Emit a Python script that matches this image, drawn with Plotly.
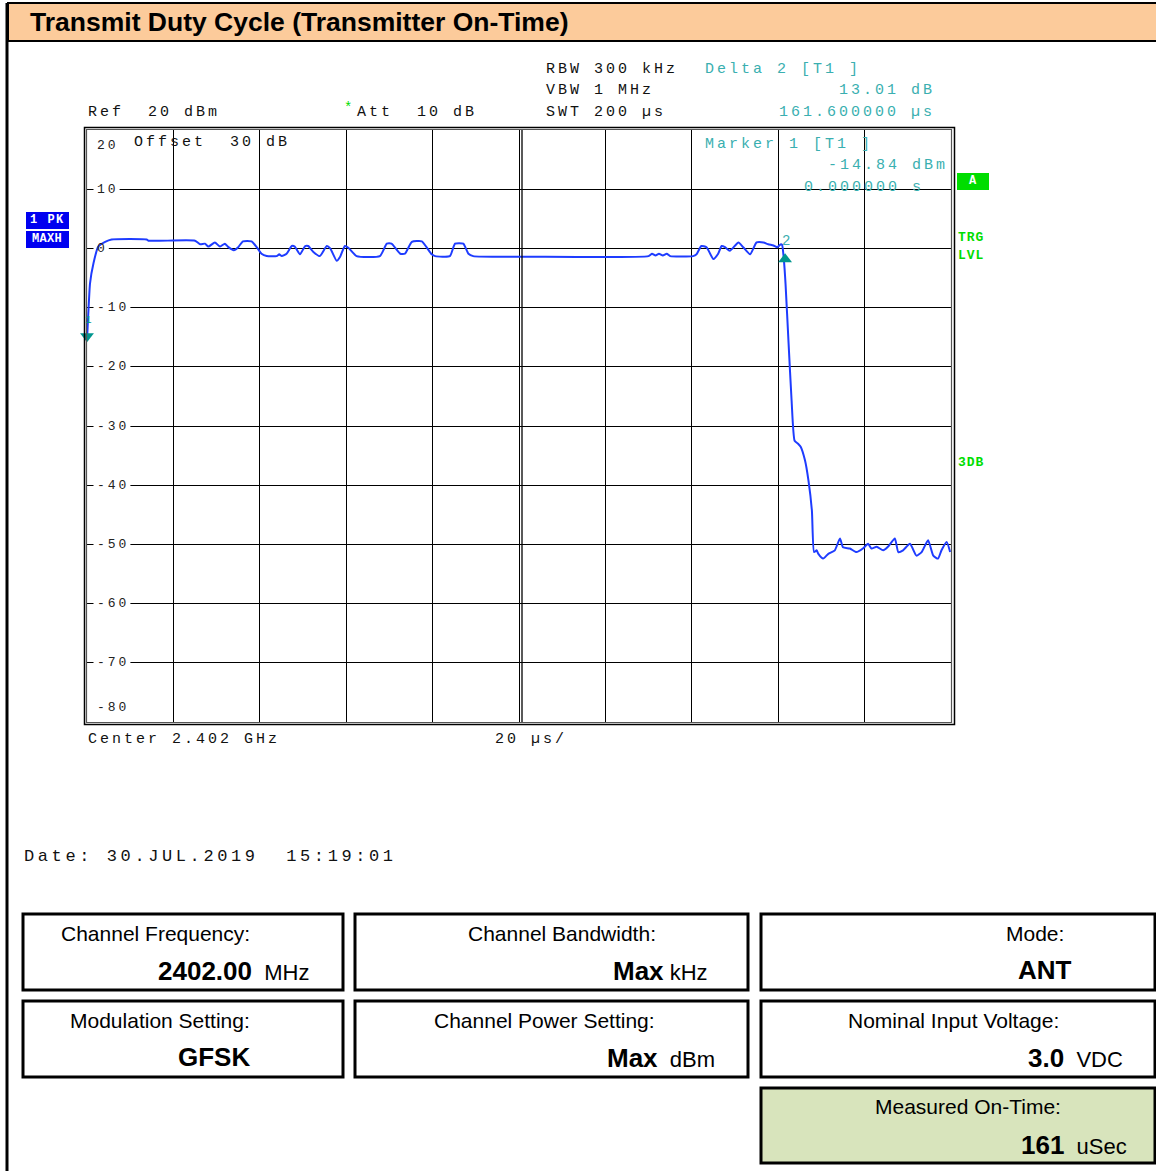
import plotly.graph_objects as go

W, H = 1156, 1171

# ---------------- data ----------------
t_us = [0.0, 0.3, 0.7, 1.5, 2.6, 4.2, 5.7, 13.8, 14.2, 25.0, 26.2, 27.3, 28.1, 29.6, 30.8, 31.9,
        32.6, 34.0, 35.0, 36.1, 38.1, 39.3, 40.4, 41.6, 43.9, 44.5, 45.1, 46.2, 47.4, 48.1,
        49.3, 50.5, 51.2, 52.4, 53.9, 55.5, 56.3, 57.8, 58.6, 59.7, 60.5, 62.4, 67.8, 69.4,
        70.5, 72.5, 73.6, 75.2, 77.5, 78.6, 79.8, 80.6, 84.0, 85.2, 87.1, 88.3, 89.4, 102.5,
        130.0, 130.8, 131.6, 132.4, 133.3, 134.2, 135.0, 140.3, 141.1, 142.2, 143.4, 145.0,
        146.1, 146.9, 147.7, 148.8, 150.8, 151.9, 153.5, 155.0, 156.6, 157.7, 158.9, 159.8,
        160.6, 160.9, 161.3, 161.7, 162.4, 163.1, 163.8, 164.6, 165.2, 166.2, 167.0, 167.8,
        168.3, 168.9, 169.3, 170.4, 171.6, 173.1, 174.3, 175.0, 176.6, 178.1, 179.6, 180.8,
        181.6, 182.8, 184.3, 185.4, 187.0, 187.8, 188.9, 190.5, 192.0, 193.2, 194.7, 195.9,
        197.0, 197.8, 199.0, 199.8]
level_dbm = [-15.5, -11.0, -5.9, -2.5, 0.3, 1.1, 1.5, 1.5, 1.3, 1.3, 0.7, 0.8, 0.3, 1.0, 0.3, 0.8,
             0.3, -0.3, 0.2, 1.2, 1.2, 0.2, -0.9, -1.3, -1.3, -1.0, -1.3, -0.9, 0.4, 0.3,
             -1.0, 0.4, 0.4, -0.6, -1.3, 0.4, 0.0, -2.1, -1.4, 0.4, 0.1, -1.3, -1.3, 0.8,
             0.8, -0.9, -0.9, 1.1, 1.2, 0.2, -1.0, -1.3, -1.3, 0.8, 0.8, -0.9, -1.3, -1.4,
             -1.3, -0.9, -1.2, -0.9, -1.2, -0.9, -1.3, -1.3, -1.0, 0.4, 0.2, -1.8,
             -0.9, 0.4, 0.2, -0.4, 1.0, 0.2, -1.0, 1.0, 1.0, 0.7, 0.5, 0.2,
             0.7, 0.6, -1.8, -6.0, -16.0, -25.7, -32.5, -33.0, -33.5, -35.8, -39.2, -44.3,
             -51.3, -51.0, -51.6, -52.4, -51.6, -51.0, -49.0, -50.5, -50.7, -51.3, -50.7, -49.9,
             -50.7, -50.4, -51.0, -50.4, -49.0, -51.3, -51.0, -49.9, -51.9, -51.3, -49.3, -51.9,
             -52.4, -51.0, -49.6, -51.3]

marker_t = [0.0, 161.6]
marker_dbm = [-14.84, -1.83]

y_tick_vals = [20, 10, 0, -10, -20, -30, -40, -50, -60, -70, -80]

# ---------------- helpers ----------------
def X(px):
    return px / W

def Y(py):
    return 1 - py / H

px_l, px_r, py_t, py_b = 87, 951, 130, 722
T_RANGE = (0, 200)

def XD(px):
    # pixel -> time axis units (for decorations drawn in the plot layer)
    return T_RANGE[0] + (px - px_l) * (T_RANGE[1] - T_RANGE[0]) / (px_r - px_l)

NB = "\u00a0"
MONO = "Liberation Mono"
SANS = "Liberation Sans"
TEAL = "#3AAFB0"
GREEN = "#00DD00"
BLUE = "#1E3CFF"
INK = "#111111"

def sp(s, ls=3.0):
    s = s.replace(" ", NB)
    return f'<span style="letter-spacing:{ls}px">{s}</span>'

fig = go.Figure()

fig.add_trace(go.Scatter(x=t_us, y=level_dbm, mode="lines",
                         line=dict(color=BLUE, width=2, shape="spline", smoothing=0.5),
                         hoverinfo="skip", showlegend=False))
fig.add_trace(go.Scatter(x=marker_t[:1], y=marker_dbm[:1], mode="markers",
                         marker=dict(symbol="triangle-down", size=12, color="#00968F"),
                         showlegend=False, cliponaxis=False))
fig.add_trace(go.Scatter(x=marker_t[1:], y=marker_dbm[1:], mode="markers",
                         marker=dict(symbol="triangle-up", size=12, color="#00968F"),
                         showlegend=False, cliponaxis=False))

fig.update_layout(
    width=W, height=H, autosize=False,
    margin=dict(l=0, r=0, t=0, b=0),
    paper_bgcolor="white", plot_bgcolor="white",
    xaxis=dict(domain=[X(px_l), X(px_r)], range=list(T_RANGE), dtick=20, tick0=0,
               showgrid=True, gridcolor="black", gridwidth=1.3, showticklabels=False,
               zeroline=False, showline=False, fixedrange=True),
    yaxis=dict(domain=[Y(py_b), Y(py_t)], range=[-80, 20], dtick=10, tick0=0,
               showgrid=True, gridcolor="black", gridwidth=1.3, showticklabels=False,
               zeroline=False, showline=False, fixedrange=True),
)

shapes = []
# page frame / title bar
shapes.append(dict(type="rect", xref="paper", yref="paper", x0=X(8), x1=X(1160), y0=Y(41), y1=Y(3),
                   fillcolor="#FCCB9B", line=dict(color="black", width=2), layer="below"))
shapes.append(dict(type="line", xref="paper", yref="paper", x0=X(7), x1=X(7), y0=Y(3), y1=Y(1175),
                   line=dict(color="black", width=3)))
# plot double frame
shapes.append(dict(type="rect", xref="paper", yref="paper", x0=X(84.5), x1=X(954.5), y0=Y(724.5), y1=Y(127.5),
                   line=dict(color="black", width=1.5)))
shapes.append(dict(type="rect", xref="paper", yref="paper", x0=X(86.5), x1=X(951.5), y0=Y(722.5), y1=Y(129.5),
                   line=dict(color="#555555", width=1.2)))
# double centre line
shapes.append(dict(type="line", xref="paper", yref="paper", x0=X(522), x1=X(522), y0=Y(722), y1=Y(130),
                   line=dict(color="black", width=1.3)))

# gaps in the horizontal grid lines behind the inner level labels (above grid, below trace)
for v in y_tick_vals[1:-1]:
    n = len(str(v))
    shapes.append(dict(type="rect", xref="x", yref="y", x0=XD(93.5), x1=XD(97 + n * 10.8 + 1),
                       y0=v - 0.6, y1=v + 0.6, fillcolor="white", line=dict(width=0), layer="between"))

# bottom info boxes
boxes = [(23, 343, 914, 990, "white"), (355, 748, 914, 990, "white"), (761, 1155, 914, 990, "white"),
         (23, 343, 1001, 1077, "white"), (355, 748, 1001, 1077, "white"), (761, 1155, 1001, 1077, "white"),
         (761, 1155, 1088, 1163, "#D8E4BC")]
for x0, x1, y0, y1, fc in boxes:
    shapes.append(dict(type="rect", xref="paper", yref="paper", x0=X(x0), x1=X(x1), y0=Y(y1), y1=Y(y0),
                       fillcolor=fc, line=dict(color="black", width=3), layer="below"))

# side label boxes
shapes.append(dict(type="rect", xref="paper", yref="paper", x0=X(957), x1=X(989), y0=Y(190), y1=Y(173),
                   fillcolor=GREEN, line=dict(width=0)))
shapes.append(dict(type="rect", xref="paper", yref="paper", x0=X(26), x1=X(69), y0=Y(229), y1=Y(212),
                   fillcolor="#0000F0", line=dict(width=0)))
shapes.append(dict(type="rect", xref="paper", yref="paper", x0=X(26), x1=X(69), y0=Y(248), y1=Y(231),
                   fillcolor="#0000F0", line=dict(width=0)))
fig.update_layout(shapes=shapes)

ann = []

def txt(x, y, text, size=15, color=INK, family=MONO, anchor="left", bg=None, pad=1):
    d = dict(xref="paper", yref="paper", x=X(x), y=Y(y), text=text, showarrow=False,
             xanchor=anchor, yanchor="middle", font=dict(family=family, size=size, color=color),
             borderpad=pad)
    if bg:
        d["bgcolor"] = bg
    ann.append(d)

# title
txt(28, 22, "<b>Transmit Duty Cycle (Transmitter On-Time)</b>", size=26.5, color="black", family=SANS)

# instrument header texts
txt(544, 69, sp("RBW 300 kHz"))
txt(544, 91, sp("VBW 1 MHz"))
txt(544, 112, sp("SWT 200 µs"))
txt(703, 69, sp("Delta 2 [T1 ]"), color=TEAL)
txt(837, 91, sp("13.01 dB"), color=TEAL)
txt(777, 112, sp("161.600000 µs"), color=TEAL)
txt(86, 112, sp("Ref  20 dBm"))
txt(342, 108, "*", size=14, color=GREEN)
txt(355, 112, sp("Att  10 dB"))
txt(132, 142, sp("Offset  30 dB"))
txt(703, 144, sp("Marker 1 [T1 ]"), color=TEAL)
txt(826, 166, sp("-14.84 dBm"), color=TEAL)
txt(802, 187, sp("0.000000 s"), color=TEAL)
txt(86, 739, sp("Center 2.402 GHz"))
txt(493, 739, sp("20 µs/"))
txt(22, 856, sp("Date: 30.JUL.2019  15:19:01", 3.6), size=17)

# marker labels
txt(83, 320, "1", size=11, color="#00968F")
txt(780, 241, "2", size=14, color=TEAL)

# side labels
txt(973, 181, "<b>A</b>", size=12, color="white", anchor="center")
txt(47, 220, "<b>" + sp("1 PK", 1.5) + "</b>", size=12, color="white", anchor="center")
txt(47, 239, "<b>" + sp("MAXH", 0.3) + "</b>", size=12, color="white", anchor="center")
txt(956, 237, "<b>" + sp("TRG", 1) + "</b>", size=13, color=GREEN)
txt(956, 256, "<b>" + sp("LVL", 1) + "</b>", size=13, color=GREEN)
txt(956, 462, "<b>" + sp("3DB", 1) + "</b>", size=13, color=GREEN)

# level labels inside grid
for v in y_tick_vals:
    d = dict(xref="paper", yref="y", x=X(94), y=v, text=sp(str(v), 3), showarrow=False,
             xanchor="left", font=dict(family=MONO, size=13, color="#222222"), borderpad=2)
    if v == 20:
        d.update(yanchor="top", yshift=-5)
    elif v == -80:
        d.update(yanchor="bottom", yshift=4)
    else:
        d.update(yanchor="middle")
    ann.append(d)

# info boxes text
def val(b, unit="", gap=2):
    s = f'<b><span style="font-size:26px">{b}</span></b>'
    if unit:
        s += f'<span style="font-size:22px">{NB * gap}{unit}</span>'
    return s

txt(59, 933, "Channel Frequency:", size=21, color="black", family=SANS)
txt(311, 971, val("2402.00", "MHz"), color="black", family=SANS, anchor="right")
txt(466, 933, "Channel Bandwidth:", size=21, color="black", family=SANS)
txt(710, 971, val("Max", "kHz", 1), color="black", family=SANS, anchor="right")
txt(1004, 933, "Mode:", size=21, color="black", family=SANS)
txt(1074, 970, val("ANT"), color="black", family=SANS, anchor="right")
txt(68, 1020, "Modulation Setting:", size=21, color="black", family=SANS)
txt(252, 1057, val("GFSK"), color="black", family=SANS, anchor="right")
txt(432, 1020, "Channel Power Setting:", size=21, color="black", family=SANS)
txt(717, 1058, val("Max", "dBm"), color="black", family=SANS, anchor="right")
txt(846, 1020, "Nominal Input Voltage:", size=21, color="black", family=SANS)
txt(1125, 1058, val("3.0", "VDC"), color="black", family=SANS, anchor="right")
txt(873, 1106, "Measured On-Time:", size=21, color="black", family=SANS)
txt(1129, 1145, val("161", "uSec"), color="black", family=SANS, anchor="right")

fig.update_layout(annotations=ann)
fig.write_html("out.html", config={"displayModeBar": False},
               post_script="document.body.style.margin='0';document.body.style.padding='0';")
